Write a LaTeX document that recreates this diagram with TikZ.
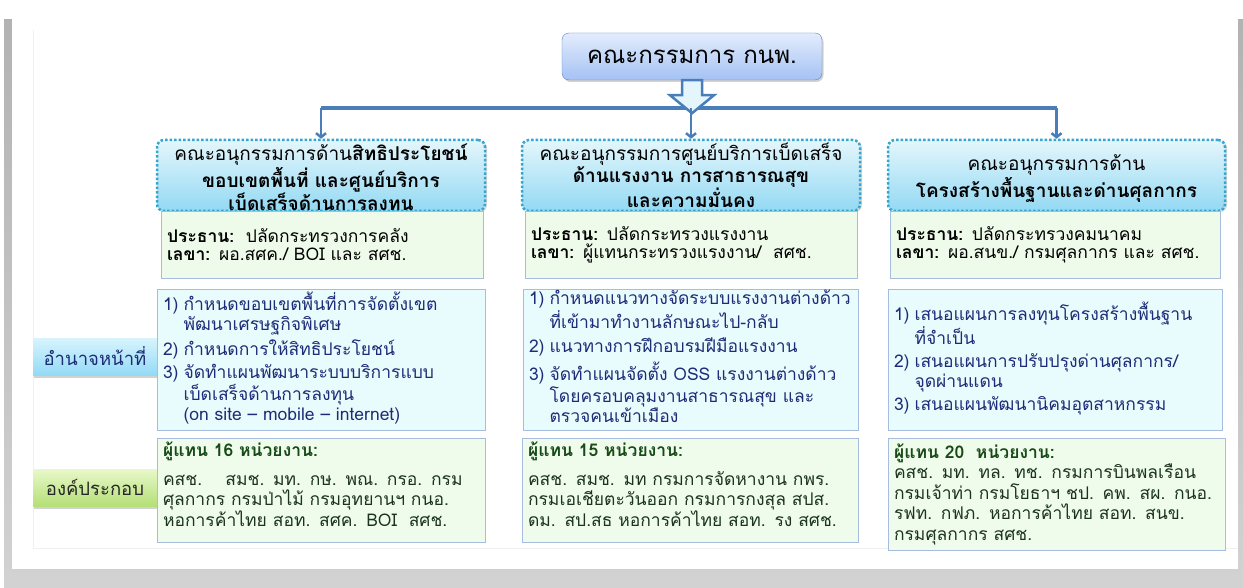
\documentclass[tikz,border=0pt]{standalone}
\usepackage{fontspec}
\newfontfamily\thai[Script=Thai]{Loma}
\usetikzlibrary{arrows.meta,shadows,positioning}
\definecolor{barblue}{HTML}{4A7EBB}
\definecolor{topA}{HTML}{E3ECFC}
\definecolor{topB}{HTML}{A4C2F4}
\definecolor{topline}{HTML}{5B83C0}
\definecolor{titA}{HTML}{E4F6FC}
\definecolor{titB}{HTML}{93D9F3}
\definecolor{titdot}{HTML}{35A6CC}
\definecolor{chairfill}{HTML}{EFFBEA}
\definecolor{dutyfill}{HTML}{E9FCFD}
\definecolor{memfill}{HTML}{EFFCEC}
\definecolor{boxline}{HTML}{A7BDE0}
\definecolor{dutytext}{HTML}{1E2C78}
\definecolor{memtext}{HTML}{1C3320}
\definecolor{memhead}{HTML}{174A17}
\definecolor{labcA}{HTML}{D7F4FD}
\definecolor{labcB}{HTML}{93DAF6}
\definecolor{labgA}{HTML}{E8F8C9}
\definecolor{labgB}{HTML}{B5DF77}
\tikzset{
  topbox/.style={draw=topline,top color=topA,bottom color=topB,rounded corners=7pt,
    minimum width=260pt,minimum height=47pt,font=\thai\fontsize{24}{26}\selectfont,
    drop shadow={opacity=0.35,shadow xshift=1.5pt,shadow yshift=-2pt}},
  titlebox/.style={draw=titdot,line width=2.5pt,dash pattern=on 2.5pt off 2pt,
    top color=titA,bottom color=titB,rounded corners=7pt,minimum height=71pt,
    inner ysep=0pt,text height=21pt,text depth=50pt,
    text width=310pt,align=center,font=\thai\fontsize{19}{21.5}\selectfont,
    drop shadow={opacity=0.3,shadow xshift=2pt,shadow yshift=-1pt}},
  chairbox/.style={draw=boxline,fill=chairfill,minimum height=67pt,inner sep=6pt,
    align=left,font=\thai\fontsize{17.5}{18}\selectfont},
  dutybox/.style={draw=boxline,fill=dutyfill,minimum height=141pt,inner xsep=6pt,inner ysep=1pt,
    align=left,text=dutytext,font=\thai\fontsize{17.5}{20}\selectfont},
  membox/.style={draw=boxline,fill=memfill,inner xsep=6pt,inner ysep=2pt,
    align=left,text=memtext,font=\thai\fontsize{17.5}{20.5}\selectfont},
  sidelabel/.style={minimum width=124pt,minimum height=37pt,font=\thai\fontsize{18.5}{20}\selectfont,
    drop shadow={opacity=0.35,shadow xshift=1pt,shadow yshift=-2.5pt}},
  busline/.style={draw=barblue,line width=3.5pt},
  downarrow/.style={draw=barblue,line width=2.5pt,->},
  bigarrow/.style={draw=barblue,line width=2.5pt,fill=titA,line join=miter}
}
\begin{document}
\begin{tikzpicture}[x=1pt,y=-1pt,>={Straight Barb[length=4pt,width=10pt]}]
\useasboundingbox (0,0) rectangle (1243,588);
% Frame
\fill[white] (0,0) rectangle (1243,588);
\fill[top color=gray!60,bottom color=gray!35] (4,20) rectangle (1243,588);
\fill[white] (12,10) rectangle (1238,569);
\draw[gray!12] (33,30) -- (33,548) -- (1238,548);
% Side labels
\node[sidelabel,top color=labcA,bottom color=labcB,text=dutytext] (lduty) at (95,356.5) {อำนาจหน้าที่};
\node[sidelabel,top color=labgA,bottom color=labgB,text=black!85] (lmem) at (95,487.5) {องค์ประกอบ};
% Top committee
\node[topbox] (top) at (692,56.5) {คณะกรรมการ กนพ.};
% Titles
\node[titlebox,minimum width=328pt] (t1) at (321,175.5) {คณะอนุกรรมการด้าน\textbf{สิทธิประโยชน์}\\\textbf{ขอบเขตพื้นที่ และศูนย์บริการ}\\\textbf{เบ็ดเสร็จด้านการลงทุน}};
\node[titlebox,minimum width=338pt] (t2) at (691,175.5) {คณะอนุกรรมการศูนย์บริการเบ็ดเสร็จ\\\textbf{ด้านแรงงาน การสาธารณสุข}\\\textbf{และความมั่นคง}};
\node[titlebox,minimum width=337pt,text height=31pt,text depth=40pt] (t3) at (1056.5,175.5) {คณะอนุกรรมการด้าน\\\textbf{โครงสร้างพื้นฐานและด่านศุลกากร}};
% Chair and secretary
\node[chairbox,text width=310pt] (c1) at (322,244.5) {\textbf{ประธาน:}\ \ ปลัดกระทรวงการคลัง\\\textbf{เลขา:} ผอ.สศค./ BOI และ สศช.};
\node[chairbox,text width=320pt] (c2) at (691,244.5) {\textbf{ประธาน:} ปลัดกระทรวงแรงงาน\\\textbf{เลขา:} ผู้แทนกระทรวงแรงงาน/\ \ สศช.};
\node[chairbox,text width=318pt] (c3) at (1055,244.5) {\textbf{ประธาน:} ปลัดกระทรวงคมนาคม\\\textbf{เลขา:} ผอ.สนข./ กรมศุลกากร และ สศช.};
% Duties
\node[dutybox,text width=316pt] (d1) at (321,359.5) {\begin{tabular}{@{}l@{\hspace{5pt}}l@{}}
1) & กำหนดขอบเขตพื้นที่การจัดตั้งเขต\\
   & พัฒนาเศรษฐกิจพิเศษ\\[3pt]
2) & กำหนดการให้สิทธิประโยชน์\\[3pt]
3) & จัดทำแผนพัฒนาระบบบริการแบบ\\
   & เบ็ดเสร็จด้านการลงทุน\\
   & (on site – mobile – internet)
\end{tabular}};
\node[dutybox,text width=323pt] (d2) at (690.5,359.5) {\begin{tabular}{@{}l@{\hspace{5pt}}l@{}}
1) & กำหนดแนวทางจัดระบบแรงงานต่างด้าว\\
   & ที่เข้ามาทำงานลักษณะไป-กลับ\\[3pt]
2) & แนวทางการฝึกอบรมฝีมือแรงงาน\\[3pt]
3) & จัดทำแผนจัดตั้ง OSS แรงงานต่างด้าว\\
   & โดยครอบคลุมงานสาธารณสุข และ\\
   & ตรวจคนเข้าเมือง
\end{tabular}};
\node[dutybox,text width=322pt] (d3) at (1055,359.5) {\begin{tabular}{@{}l@{\hspace{5pt}}l@{}}
1) & เสนอแผนการลงทุนโครงสร้างพื้นฐาน\\
   & ที่จำเป็น\\[3pt]
2) & เสนอแผนการปรับปรุงด่านศุลกากร/\\
   & จุดผ่านแดน\\[3pt]
3) & เสนอแผนพัฒนานิคมอุตสาหกรรม
\end{tabular}};
% Members
\node[membox,text width=316pt,minimum height=104pt] (m1) at (321,490) {\textcolor{memhead}{\textbf{ผู้แทน 16 หน่วยงาน:}}\\[8pt]
คสช.\ \ \ \ สมช. มท. กษ. พณ. กรอ. กรม\\ศุลกากร กรมป่าไม้ กรมอุทยานฯ กนอ.\\หอการค้าไทย สอท. สศค. BOI\ \ สศช.\par\vspace{12pt}};
\node[membox,text width=324pt,minimum height=104pt] (m2) at (690,490) {\textcolor{memhead}{\textbf{ผู้แทน 15 หน่วยงาน:}}\\[8pt]
คสช. สมช. มท กรมการจัดหางาน กพร.\\กรมเอเชียตะวันออก กรมการกงสุล สปส.\\ดม. สป.สธ หอการค้าไทย สอท. รง สศช.\par\vspace{12pt}};
\node[membox,text width=333pt,minimum height=112pt,inner xsep=2pt] (m3) at (1056.5,494) {\hspace*{4pt}\textcolor{memhead}{\textbf{ผู้แทน 20\ \ หน่วยงาน:}}\\
\hspace*{4pt}คสช. มท. ทล. ทช. กรมการบินพลเรือน\\\hspace*{4pt}กรมเจ้าท่า กรมโยธาฯ ชป. คพ. สผ. กนอ.\\\hspace*{4pt}รฟท. กฟภ. หอการค้าไทย สอท. สนข.\\\hspace*{4pt}กรมศุลกากร สศช.};
% Connectors
\coordinate (bus) at (692,108);
\draw[busline] (t1.north |- bus) -- (t3.north |- bus);
\draw[bigarrow] ([xshift=-10pt]top.south) -- ++(0,15) -- ++(-12,0) -- ++(22,18) -- ++(22,-18) -- ++(-12,0) -- ([xshift=10pt]top.south) -- cycle;
\draw[downarrow] (t1.north |- bus) -- (t1.north);
\draw[downarrow] (t2.north |- bus) -- (t2.north);
\draw[downarrow] (t3.north |- bus) -- (t3.north);
\end{tikzpicture}
\end{document}
